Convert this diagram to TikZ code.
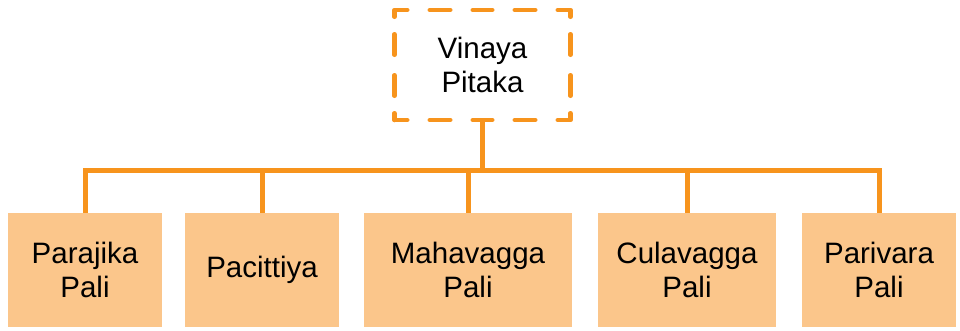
\documentclass[tikz,border=0pt]{standalone}
\usepackage{fontspec}
\setmainfont{Liberation Sans}
\usepackage{tikz}
\usetikzlibrary{positioning,calc}

\definecolor{vorange}{HTML}{F7941D}
\definecolor{vfill}{HTML}{FBC68B}

\begin{document}
\begin{tikzpicture}[
    x=1pt, y=-1pt,
    book/.style={rectangle, fill=vfill, minimum height=114pt, inner sep=0pt, align=center, font=\fontsize{29.5}{34}\selectfont},
    pitaka/.style={rectangle, minimum width=176pt, minimum height=110pt, inner sep=0pt, outer sep=0pt, align=center, font=\fontsize{29.5}{34}\selectfont},
    dashborder/.style={draw=vorange, line width=4.5pt, line cap=round, line join=round,
        dash pattern=on 19.5pt off 17.5pt on 20.5pt off 20.5pt on 20.5pt off 17.5pt
                     on 19.5pt off 22.5pt on 20.5pt off 22.5pt on 19.5pt off 22.5pt on 20.5pt off 22.5pt
                     on 19.5pt off 17.5pt on 20.5pt off 20.5pt on 20.5pt off 17.5pt
                     on 19.5pt off 22.5pt on 20.5pt off 22.5pt on 19.5pt off 22.5pt on 20.5pt off 22.5pt,
        dash phase=12.75pt},
    link/.style={draw=vorange, line width=5pt, line join=miter}
]
\useasboundingbox (0,0) rectangle (960,330);

% Root
\node[pitaka] (vinaya) at (482.5,65) {Vinaya\\Pitaka};
\draw[dashborder] (vinaya.south west) -- (vinaya.north west) -- (vinaya.north east) -- (vinaya.south east) -- cycle;

% Books
\node[book, minimum width=154pt] (parajika) at (85,270) {Parajika\\Pali};
\node[book, minimum width=154pt] (pacittiya) at (262,270) {Pacittiya};
\node[book, minimum width=208pt] (mahavagga) at (468,270) {Mahavagga\\Pali};
\node[book, minimum width=178pt] (culavagga) at (687,270) {Culavagga\\Pali};
\node[book, minimum width=154pt] (parivara) at (879,270) {Parivara\\Pali};

% Connectors
\coordinate (bus) at (482.5,170);
\draw[link] (vinaya) -- (bus);
\draw[link] (parajika) |- (bus) -| (parivara);
\foreach \n in {pacittiya, mahavagga, culavagga}
    \draw[link] (\n) -- (\n.north |- bus);

\end{tikzpicture}
\end{document}
